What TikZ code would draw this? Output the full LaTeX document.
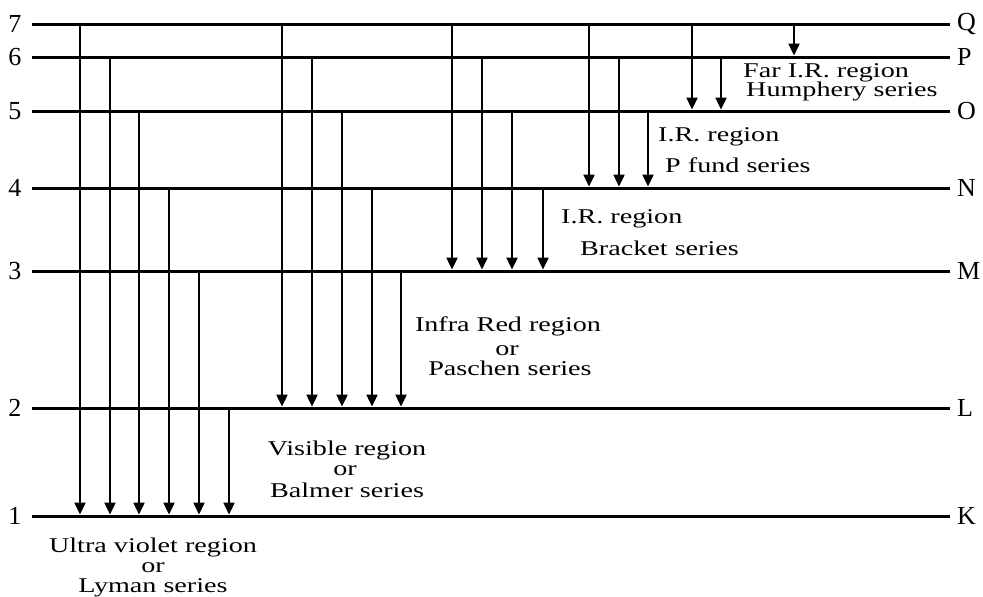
\documentclass[tikz,border=0pt]{standalone}
\usepackage{fontspec}
\setmainfont{Liberation Serif}
\newfontfamily\lblfont[FakeStretch=1.34]{Liberation Serif}
\usetikzlibrary{arrows.meta}
\begin{document}
\begin{tikzpicture}[x=1pt,y=-1pt,
  levelline/.style={line width=3pt},
  trans/.style={line width=2.4pt,-{Triangle[width=11pt,length=12pt]}},
  txt/.style={font=\lblfont\fontsize{21}{21}\selectfont, inner sep=0pt},
  num/.style={font=\fontsize{26}{26}\selectfont, inner sep=0pt}]
\useasboundingbox (0,0) rectangle (983,597);
% energy levels
\foreach \y/\n/\l in {24/7/Q,57/6/P,111/5/O,188/4/N,271/3/M,408/2/L,516/1/K}{
  \node[num] (n\n) at (15,\y) {\n};
  \node[num,anchor=west] (s\l) at (957,\y) {\l};
  \coordinate (w\n) at (32,\y);
  \coordinate (e\n) at (950,\y);
  \draw[levelline] (w\n) -- (e\n);
}
% transitions
\foreach \x/\a/\b [count=\i] in {
  80/24/516,110/57/516,139/111/516,169/188/516,199/271/516,229/408/516,
  282/24/408,312/57/408,342/111/408,372/188/408,401/271/408,
  452/24/271,482/57/271,512/111/271,543/188/271,
  589/24/188,619/57/188,648/111/188,
  692/24/111,721/57/111,
  794/24/57}{
  \coordinate (t\i) at (\x,\a);
  \coordinate (b\i) at (\x,\b-1.5);
  \draw[trans] (t\i) -- (b\i);
}
% labels
\node[txt,anchor=base west] (hum1) at (743,77) {Far I.R. region};
\node[txt,anchor=base west] (hum2) at (746,96) {Humphery series};
\node[txt,anchor=base west] (pf1) at (658,141) {I.R. region};
\node[txt,anchor=base west] (pf2) at (665,172) {P fund series};
\node[txt,anchor=base west] (br1) at (561,223) {I.R. region};
\node[txt,anchor=base west] (br2) at (580,255) {Bracket series};
\node[txt,anchor=base] (pa1) at (508,331) {Infra Red region};
\node[txt,anchor=base] (pa2) at (507,355) {or};
\node[txt,anchor=base] (pa3) at (510,375) {Paschen series};
\node[txt,anchor=base] (ba1) at (347,455) {Visible region};
\node[txt,anchor=base] (ba2) at (345,475) {or};
\node[txt,anchor=base] (ba3) at (347,497) {Balmer series};
\node[txt,font=\lblfont\fontsize{21}{20}\selectfont,align=center] (ly) at (153,567)
  {Ultra violet region\\or\\Lyman series};
\end{tikzpicture}
\end{document}
